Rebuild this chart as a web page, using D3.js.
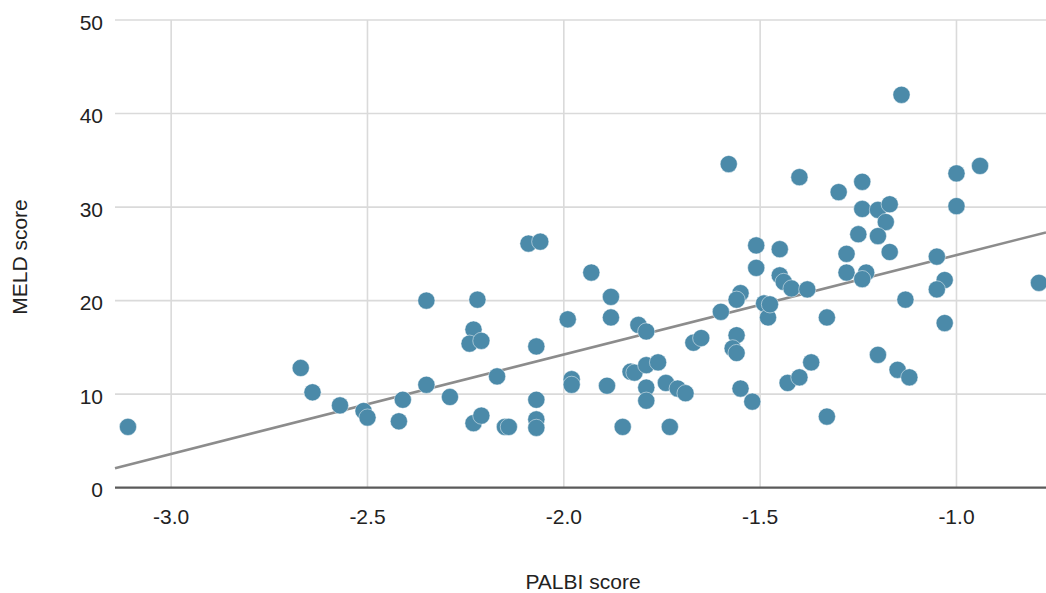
<!DOCTYPE html>
<html>
<head>
<meta charset="utf-8">
<script src="https://cdn.jsdelivr.net/npm/d3@7"></script>
<style>
  html, body { margin: 0; padding: 0; background: #ffffff; }
  svg { display: block; }
  text { font-family: "Liberation Sans", Arial, Helvetica, sans-serif; fill: #222; }
</style>
</head>
<body>
<svg id="chart" width="1046" height="593"></svg>
<script>
// PALBI score (x) values
const palbi = [
  -3.11, -2.67, -2.64, -2.57, -2.51, -2.50, -2.42, -2.41, -2.35, -2.35,
  -2.29, -2.22, -2.23, -2.24, -2.21, -2.23, -2.21, -2.17, -2.15, -2.14,
  -2.09, -2.06, -2.07, -2.07, -2.07, -2.07, -1.99, -1.98, -1.98, -1.93,
  -1.88, -1.88, -1.89, -1.85, -1.83, -1.82, -1.81, -1.79, -1.79, -1.76,
  -1.79, -1.79, -1.74, -1.73, -1.71, -1.69, -1.67, -1.65, -1.60, -1.58,
  -1.56, -1.57, -1.56, -1.55, -1.56, -1.55, -1.52, -1.51, -1.51, -1.49,
  -1.48, -1.475, -1.45, -1.45, -1.44, -1.42, -1.38, -1.40, -1.43, -1.40,
  -1.37, -1.33, -1.33, -1.30, -1.28, -1.28, -1.25, -1.24, -1.24, -1.23,
  -1.24, -1.20, -1.17, -1.18, -1.20, -1.17, -1.20, -1.15, -1.12, -1.14,
  -1.13, -1.05, -1.03, -1.05, -1.03, -1.00, -1.00, -0.94, -0.79
];
// MELD score (y) values
const meld = [
   6.5, 12.8, 10.2,  8.8,  8.2,  7.5,  7.1,  9.4, 20.0, 11.0,
   9.7, 20.1, 16.9, 15.4, 15.7,  6.9,  7.7, 11.9,  6.5,  6.5,
  26.1, 26.3, 15.1,  9.4,  7.3,  6.4, 18.0, 11.6, 11.0, 23.0,
  20.4, 18.2, 10.9,  6.5, 12.4, 12.3, 17.4, 16.7, 13.1, 13.4,
  10.7,  9.3, 11.2,  6.5, 10.6, 10.1, 15.5, 16.0, 18.8, 34.6,
  16.3, 14.9, 14.4, 20.8, 20.1, 10.6,  9.2, 23.5, 25.9, 19.7,
  18.2, 19.6, 25.5, 22.7, 22.0, 21.3, 21.2, 33.2, 11.2, 11.8,
  13.4, 18.2,  7.6, 31.6, 25.0, 23.0, 27.1, 32.7, 29.8, 23.0,
  22.3, 29.7, 30.3, 28.4, 26.9, 25.2, 14.2, 12.6, 11.8, 42.0,
  20.1, 24.7, 22.2, 21.2, 17.6, 33.6, 30.1, 34.4, 21.9
];
// Linear trend line: MELD = slope * PALBI + intercept
const trendSlope = 10.63;
const trendIntercept = 35.5;

const xTicks = [-3.0, -2.5, -2.0, -1.5, -1.0];
const yTicks = [0, 10, 20, 30, 40, 50];
const xDomain = [-3.143, -0.772];
const yDomain = [0, 50];
const xTitle = "PALBI score";
const yTitle = "MELD score";

const svg = d3.select("#chart");
const plot = { left: 115, right: 1046, top: 20, bottom: 487.7 };

const x = d3.scaleLinear().domain(xDomain).range([plot.left, plot.right]);
const y = d3.scaleLinear().domain(yDomain).range([plot.bottom, plot.top]);

// horizontal grid
svg.append("g").selectAll("line").data(yTicks.filter(d => d !== 0)).join("line")
  .attr("x1", plot.left).attr("x2", plot.right)
  .attr("y1", d => y(d)).attr("y2", d => y(d))
  .attr("stroke", "#dadada").attr("stroke-width", 1.6);

// vertical grid
svg.append("g").selectAll("line").data(xTicks).join("line")
  .attr("x1", d => x(d)).attr("x2", d => x(d))
  .attr("y1", y(50)).attr("y2", y(0))
  .attr("stroke", "#dadada").attr("stroke-width", 1.6);

// baseline
svg.append("line")
  .attr("x1", plot.left).attr("x2", plot.right)
  .attr("y1", y(0)).attr("y2", y(0))
  .attr("stroke", "#5a5a5a").attr("stroke-width", 2.2);

// y tick labels
svg.append("g").selectAll("text").data(yTicks).join("text")
  .attr("x", plot.left - 12).attr("y", d => y(d) + 2)
  .attr("text-anchor", "end").attr("dominant-baseline", "central")
  .style("font-size", "21px")
  .text(d => String(d));

// x tick labels (plain hyphen-minus as in the reference)
svg.append("g").selectAll("text").data(xTicks).join("text")
  .attr("x", d => x(d)).attr("y", 524)
  .attr("text-anchor", "middle")
  .style("font-size", "21px")
  .text(d => d.toFixed(1));

// trend line
const tx = x.domain();
svg.append("line")
  .attr("x1", x(tx[0])).attr("y1", y(trendSlope * tx[0] + trendIntercept))
  .attr("x2", x(tx[1])).attr("y2", y(trendSlope * tx[1] + trendIntercept))
  .attr("stroke", "#8c8c8c").attr("stroke-width", 2.6);

// points
const pts = palbi.map((v, i) => ({ x: v, y: meld[i] }));
svg.append("g").selectAll("circle").data(pts).join("circle")
  .attr("cx", d => x(d.x)).attr("cy", d => y(d.y))
  .attr("r", 8.6)
  .attr("fill", "#4b8aa9")
  .attr("stroke", "#ffffff").attr("stroke-opacity", 0.6).attr("stroke-width", 0.8);

// axis titles
svg.append("text")
  .attr("x", 583).attr("y", 589)
  .attr("text-anchor", "middle")
  .style("font-size", "21px")
  .text(xTitle);

svg.append("text")
  .attr("transform", "translate(27,257) rotate(-90)")
  .attr("text-anchor", "middle")
  .style("font-size", "21px")
  .text(yTitle);
</script>
</body>
</html>
